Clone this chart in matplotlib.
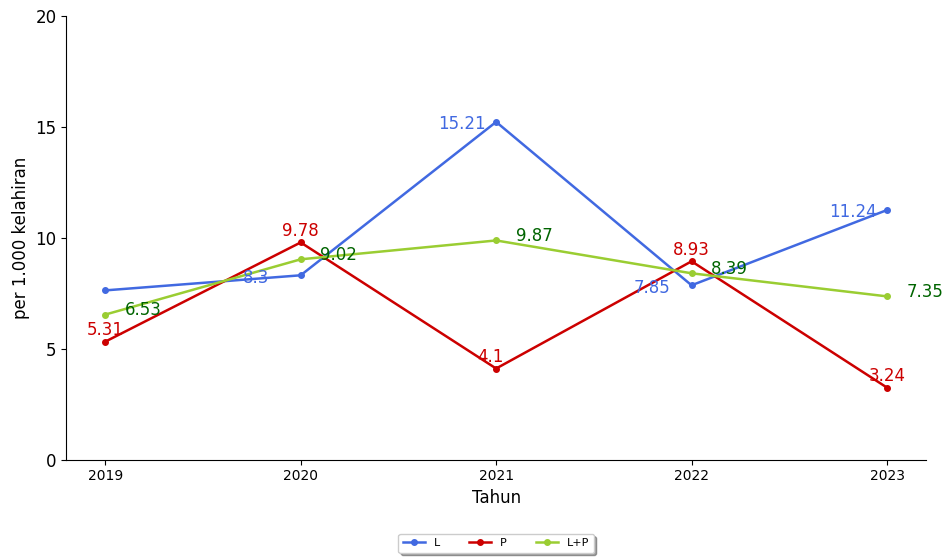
import matplotlib
matplotlib.use("Agg")
import matplotlib.pyplot as plt

tahun = [2019, 2020, 2021, 2022, 2023]
nilai_l = [7.62, 8.3, 15.21, 7.85, 11.24]
nilai_p = [5.31, 9.78, 4.1, 8.93, 3.24]
nilai_lp = [6.53, 9.02, 9.87, 8.39, 7.35]

warna_l = "#4169E1"
warna_p = "#CC0000"
warna_lp = "#9ACD32"

fig, ax = plt.subplots(figsize=(9.45, 5.57), dpi=100)
fig.subplots_adjust(left=0.07, right=0.98, top=0.972, bottom=0.175)

ax.plot(tahun, nilai_l, color=warna_l, marker="o", markersize=4, linewidth=1.8, label="L")
ax.plot(tahun, nilai_p, color=warna_p, marker="o", markersize=4, linewidth=1.8, label="P")
ax.plot(tahun, nilai_lp, color=warna_lp, marker="o", markersize=4, linewidth=1.8, label="L+P")

# label L: kiri titik (2019 tidak terlihat)
geser_l = [None, -0.23, -0.175, -0.2, -0.175]
for x, y, g in zip(tahun, nilai_l, geser_l):
    if g is None:
        continue
    ax.text(x + g, y - 0.1, str(y), color=warna_l, fontsize=12, ha="center", va="center")

# label P: di atas titik
geser_p = [0, 0, -0.03, 0, 0]
for x, y, g in zip(tahun, nilai_p, geser_p):
    ax.text(x + g, y + 0.1, str(y), color=warna_p, fontsize=12, ha="center", va="bottom")

# label L+P: kanan titik
for x, y in zip(tahun, nilai_lp):
    ax.text(x + 0.1, y + 0.2, str(y), color="#006400", fontsize=12, ha="left", va="center")

ax.set_ylim(0, 20)
ax.set_yticks([0, 5, 10, 15, 20])
ax.set_xticks(tahun)
ax.tick_params(axis="y", labelsize=12)
ax.tick_params(axis="x", labelsize=10)
ax.set_xlabel("Tahun", fontsize=12)
ax.set_ylabel("per 1.000 kelahiran", fontsize=12)
ax.spines["top"].set_visible(False)
ax.spines["right"].set_visible(False)

ax.legend(loc="upper center", bbox_to_anchor=(0.5, -0.155), ncol=3, fontsize=8,
          shadow=True, frameon=True, columnspacing=2.6)

fig.savefig("out.png", dpi=100)
